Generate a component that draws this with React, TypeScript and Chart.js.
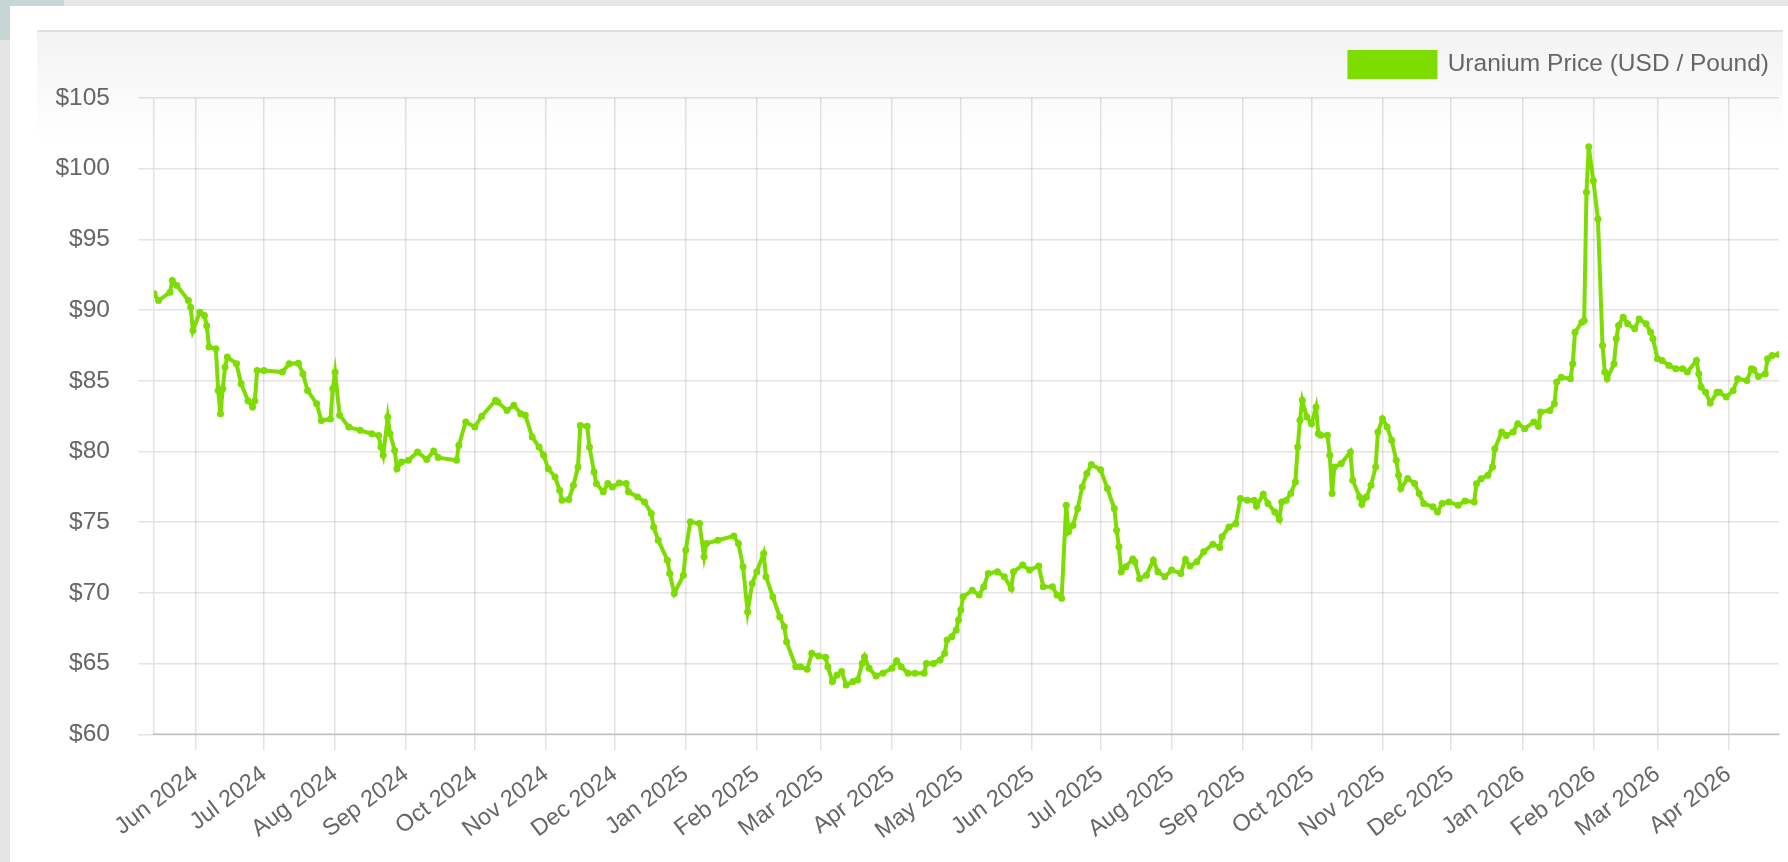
import React, { useEffect, useRef } from 'react';
import { Chart, registerables } from 'chart.js';

Chart.register(...registerables);

// ---- Data ----
const seriesLabel = 'Uranium Price (USD / Pound)';

const dates2024 = [
  '05-14', '05-16', '05-21', '05-22', '05-24', '05-29', '05-30', '05-31', '06-03', '06-05',
  '06-06', '06-07', '06-10', '06-11', '06-12', '06-13', '06-14', '06-15', '06-19', '06-21',
  '06-24', '06-26', '06-27', '06-28', '07-01', '07-09', '07-12', '07-16', '07-18', '07-20',
  '07-24', '07-26', '07-30', '07-31', '08-01', '08-03', '08-07', '08-12', '08-17', '08-20',
  '08-21', '08-22', '08-24', '08-25', '08-27', '08-28', '08-30', '09-02', '09-06', '09-10',
  '09-13', '09-15', '09-23', '09-24', '09-27', '10-01', '10-04', '10-10', '10-11', '10-15',
  '10-18', '10-21', '10-23', '10-26', '10-29', '10-31', '11-02', '11-05', '11-07', '11-08',
  '11-11', '11-13', '11-15', '11-16', '11-19', '11-20', '11-22', '11-23', '11-26', '11-28',
  '11-30', '12-03', '12-06', '12-07', '12-11', '12-14', '12-17', '12-18', '12-20', '12-24',
  '12-25', '12-27', '12-31',
];
const prices2024 = [
  91.15, 90.68, 91.27, 92.09, 91.74, 90.68, 90.2, 88.56, 89.85, 89.62,
  88.9, 87.4, 87.26, 84.32, 82.67, 84.44, 85.97, 86.68, 86.21, 84.79,
  83.6, 83.15, 83.6, 85.73, 85.73, 85.62, 86.21, 86.25, 85.5, 84.32,
  83.38, 82.2, 82.3, 84.44, 85.6, 82.56, 81.73, 81.5, 81.26, 81.14,
  80.32, 79.73, 82.44, 81.26, 80.08, 78.79, 79.26, 79.38, 79.97, 79.43,
  80.04, 79.57, 79.38, 80.44, 82.09, 81.74, 82.5, 83.62, 83.5, 82.91,
  83.27, 82.68, 82.56, 81.03, 80.32, 79.74, 78.79, 78.2, 77.26, 76.56,
  76.6, 77.62, 78.91, 81.85, 81.78, 80.32, 78.56, 77.74, 77.15, 77.74,
  77.5, 77.78, 77.74, 77.15, 76.79, 76.44, 75.62, 74.67, 73.73, 72.32,
  71.38, 69.97, 71.26,
];

const dates2025 = [
  '01-01', '01-03', '01-07', '01-09', '01-10', '01-15', '01-22', '01-24', '01-26', '01-28',
  '01-30', '02-01', '02-04', '02-05', '02-08', '02-11', '02-13', '02-14', '02-18', '02-20',
  '02-23', '02-25', '02-28', '03-03', '03-04', '03-06', '03-08', '03-10', '03-12', '03-15',
  '03-17', '03-19', '03-20', '03-22', '03-25', '03-28', '04-01', '04-03', '04-05', '04-08',
  '04-11', '04-15', '04-16', '04-19', '04-22', '04-24', '04-25', '04-27', '04-29', '04-30',
  '05-01', '05-02', '05-06', '05-09', '05-11', '05-13', '05-17', '05-20', '05-23', '05-24',
  '05-28', '05-31', '06-04', '06-06', '06-10', '06-12', '06-14', '06-16', '06-17', '06-19',
  '06-21', '06-23', '06-25', '06-27', '07-01', '07-04', '07-07', '07-08', '07-09', '07-10',
  '07-12', '07-15', '07-16', '07-18', '07-21', '07-24', '07-26', '07-29', '08-01', '08-05',
  '08-07', '08-09', '08-12', '08-15', '08-19', '08-22', '08-23', '08-26', '08-29', '08-31',
  '09-03', '09-06', '09-07', '09-10', '09-12', '09-15', '09-17', '09-18', '09-20', '09-22',
  '09-24', '09-25', '09-26', '09-27', '09-29', '10-01', '10-03', '10-04', '10-05', '10-08',
  '10-09', '10-10', '10-11', '10-14', '10-18', '10-19', '10-22', '10-23', '10-25', '10-27',
  '10-29', '10-30', '11-01', '11-03', '11-05', '11-07', '11-08', '11-09', '11-12', '11-15',
  '11-17', '11-19', '11-23', '11-25', '11-27', '11-30', '12-04', '12-07', '12-11', '12-12',
  '12-14', '12-17', '12-19', '12-20', '12-23', '12-25', '12-28', '12-30',
];
const prices2025 = [
  73.03, 75.03, 74.91, 72.56, 73.5, 73.73, 74.02, 73.5, 71.85, 68.67,
  70.67, 71.5, 72.79, 71.15, 69.73, 68.32, 67.61, 66.55, 64.79, 64.79,
  64.6, 65.73, 65.54, 65.45, 64.79, 63.73, 64.2, 64.44, 63.49, 63.73,
  63.85, 65.02, 65.49, 64.67, 64.13, 64.32, 64.67, 65.21, 64.79, 64.32,
  64.32, 64.32, 65.02, 65.02, 65.26, 65.73, 66.67, 66.91, 67.38, 68.08,
  68.79, 69.73, 70.2, 69.85, 70.44, 71.38, 71.5, 71.14, 70.32, 71.5,
  71.97, 71.62, 71.9, 70.44, 70.44, 69.85, 69.62, 76.2, 74.32, 74.79,
  75.97, 77.5, 78.44, 79.08, 78.72, 77.38, 75.97, 74.44, 73.26, 71.5,
  71.85, 72.4, 72.2, 71.0, 71.26, 72.32, 71.5, 71.14, 71.62, 71.38,
  72.37, 71.9, 72.2, 72.91, 73.45, 73.22, 73.97, 74.67, 74.91, 76.68,
  76.56, 76.56, 76.13, 76.98, 76.32, 75.73, 75.19, 76.44, 76.56, 77.03,
  77.85, 80.32, 82.21, 83.62, 82.44, 81.97, 83.15, 81.27, 81.15, 81.15,
  79.74, 77.03, 78.91, 79.15, 79.97, 77.97, 76.79, 76.27, 76.79, 77.62,
  78.91, 81.38, 82.32, 81.74, 80.8, 79.38, 78.32, 77.38, 78.09, 77.74,
  77.03, 76.32, 76.09, 75.73, 76.32, 76.44, 76.2, 76.5, 76.43, 77.73,
  78.08, 78.32, 78.91, 80.2, 81.38, 81.14, 81.38, 81.97,
];

const dates2026 = [
  '01-02', '01-06', '01-08', '01-09', '01-13', '01-15', '01-16', '01-18', '01-22', '01-23',
  '01-24', '01-27', '01-28', '01-29', '01-30', '02-01', '02-03', '02-05', '02-06', '02-07',
  '02-10', '02-11', '02-12', '02-14', '02-16', '02-19', '02-21', '02-24', '02-26', '02-27',
  '03-01', '03-03', '03-06', '03-09', '03-12', '03-14', '03-18', '03-19', '03-20', '03-22',
  '03-24', '03-27', '03-28', '03-31', '04-03', '04-05', '04-09', '04-11', '04-12', '04-14',
  '04-17', '04-18', '04-20', '04-23',
];
const prices2026 = [
  81.62, 82.09, 81.78, 82.79, 82.91, 83.38, 84.91, 85.26, 85.15, 86.2,
  88.44, 89.15, 89.27, 98.33, 101.55, 99.15, 96.45, 87.5, 85.62, 85.15,
  86.2, 87.97, 88.91, 89.5, 89.03, 88.68, 89.38, 89.03, 88.44, 87.97,
  86.56, 86.44, 86.09, 85.85, 85.85, 85.62, 86.44, 85.5, 84.56, 84.2,
  83.43, 84.2, 84.2, 83.85, 84.32, 85.15, 85.03, 85.85, 85.78, 85.31,
  85.5, 86.56, 86.79, 86.86,
];

const monthTicks = [
  '2024-06', '2024-07', '2024-08', '2024-09', '2024-10', '2024-11', '2024-12',
  '2025-01', '2025-02', '2025-03', '2025-04', '2025-05', '2025-06', '2025-07',
  '2025-08', '2025-09', '2025-10', '2025-11', '2025-12', '2026-01', '2026-02',
  '2026-03', '2026-04',
];
const monthNames = ['Jan', 'Feb', 'Mar', 'Apr', 'May', 'Jun', 'Jul', 'Aug', 'Sep', 'Oct', 'Nov', 'Dec'];

const yMin = 60;
const yMax = 105;
const yStep = 5;

// ---- Styling ----
const GREEN = '#7ddc00';
const FONT = "'Liberation Sans', Arial, Helvetica, sans-serif";
const TEXT = '#666666';
const GRID = 'rgba(0,0,0,0.11)';

const dayOf = (y: number, m: number, d: number) => Date.UTC(y, m - 1, d) / 86400000;

function buildPoints() {
  const pts: { x: number; y: number }[] = [];
  const add = (year: number, ds: string[], vs: number[]) => {
    ds.forEach((s, i) => {
      const [m, d] = s.split('-').map(Number);
      pts.push({ x: dayOf(year, m, d), y: vs[i] });
    });
  };
  add(2024, dates2024, prices2024);
  add(2025, dates2025, prices2025);
  add(2026, dates2026, prices2026);
  return pts;
}

// Adds a little extra room under the legend, like the reference.
const legendGap = {
  id: 'legendGap',
  beforeInit(chart: any) {
    const legend = chart.legend;
    if (!legend) return;
    const origFit = legend.fit;
    legend.fit = function fit() {
      origFit.call(this);
      this.height += 11;
    };
  },
};

export default function App() {
  const ref = useRef<HTMLCanvasElement | null>(null);

  useEffect(() => {
    document.body.style.margin = '0';
    const pts = buildPoints();
    const tickMap = new Map<number, string>();
    monthTicks.forEach((s) => {
      const [y, m] = s.split('-').map(Number);
      tickMap.set(dayOf(y, m, 1), `${monthNames[m - 1]} ${y}`);
    });
    const tickValues = Array.from(tickMap.keys());

    const chart = new Chart(ref.current as HTMLCanvasElement, {
      type: 'line',
      data: {
        datasets: [
          {
            label: seriesLabel,
            data: pts,
            borderColor: GREEN,
            backgroundColor: GREEN,
            borderWidth: 4,
            pointRadius: 3.5,
            pointBorderWidth: 0,
            pointBackgroundColor: GREEN,
            tension: 0,
            fill: false,
          },
        ],
      },
      plugins: [legendGap],
      options: {
        animation: false,
        responsive: false,
        devicePixelRatio: 1,
        layout: { padding: { left: 19, right: 4, top: 10, bottom: 7 } },
        plugins: {
          legend: {
            position: 'top',
            align: 'end',
            labels: {
              boxWidth: 86,
              boxHeight: 25,
              color: TEXT,
              padding: 10,
              font: { size: 24.5, family: FONT },
            },
          },
          tooltip: { enabled: false },
        },
        scales: {
          x: {
            type: 'linear',
            min: pts[0].x,
            max: pts[pts.length - 1].x,
            afterBuildTicks: (scale: any) => {
              scale.ticks = tickValues.map((v) => ({ value: v }));
            },
            grid: { color: GRID, lineWidth: 1.5, tickLength: 16 },
            border: { display: true, color: 'rgba(0,0,0,0.14)', width: 2 },
            ticks: {
              autoSkip: false,
              minRotation: 37,
              maxRotation: 37,
              padding: 10,
              color: TEXT,
              font: { size: 23.5, family: FONT },
              callback: (v: any) => tickMap.get(Number(v)) ?? '',
            },
          },
          y: {
            min: yMin,
            max: yMax,
            afterFit: (scale: any) => {
              scale.width = 98;
            },
            grid: { color: GRID, lineWidth: 1.5, tickLength: 16 },
            border: { display: true, color: GRID, width: 1.5 },
            ticks: {
              stepSize: yStep,
              padding: 28,
              color: TEXT,
              font: { size: 24.5, family: FONT },
              callback: (v: any) => '$' + v,
            },
          },
        },
      },
    } as any);
    return () => chart.destroy();
  }, []);

  return (
    <div style={{ position: 'relative', width: 1788, height: 862, background: '#e4e5e5', overflow: 'hidden' }}>
      <div style={{ position: 'absolute', left: 0, top: 0, width: 64, height: 40, background: '#c8d5d5' }} />
      <div style={{ position: 'absolute', left: 10, top: 6, right: 0, bottom: 0, background: '#ffffff' }} />
      <div
        style={{
          position: 'absolute',
          left: 37,
          top: 30,
          width: 1746,
          height: 832,
          borderTop: '2px solid #e0e0e0',
          background: 'linear-gradient(#f3f3f3 0px, #ffffff 110px)',
        }}
      >
        <canvas ref={ref} width={1746} height={830} style={{ display: 'block', width: 1746, height: 830 }} />
      </div>
    </div>
  );
}
